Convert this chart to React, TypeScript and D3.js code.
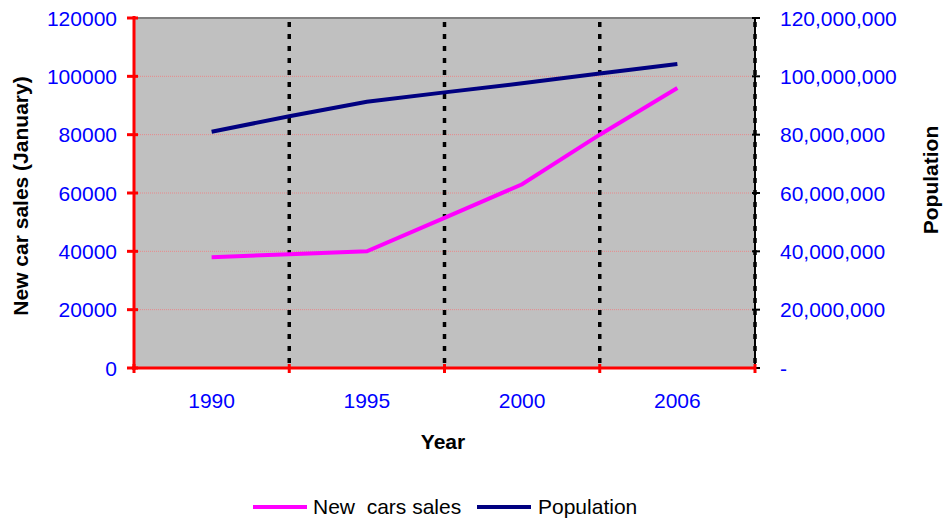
import React from "react";
import * as d3 from "d3";

const years = ["1990", "", "1995", "", "2000", "", "2006"];
const carSales = [38000, 39000, 40000, 51500, 63000, 80000, 96000];
const population = [81000000, 86300000, 91300000, 94500000, 97600000, 101000000, 104200000];
const leftTicks = [0, 20000, 40000, 60000, 80000, 100000, 120000];
const rightTicks = [0, 20000000, 40000000, 60000000, 80000000, 100000000, 120000000];

const W = 945, H = 523;
const L = 134, R = 755, T = 18, B = 368;
const FONT = "Arial, 'Liberation Sans', sans-serif";
const FS = 21;

export default function App() {
  const x = d3.scaleLinear().domain([0, 8]).range([L, R]);
  const yL = d3.scaleLinear().domain([0, 120000]).range([B, T]);
  const yR = d3.scaleLinear().domain([0, 120000000]).range([B, T]);
  const lineL = d3.line<number>().x((_, i) => x(i + 1)).y((d) => yL(d));
  const lineR = d3.line<number>().x((_, i) => x(i + 1)).y((d) => yR(d));
  const fmt = d3.format(",");
  const bounds = [0, 2, 4, 6, 8];
  return (
    <svg width={W} height={H} style={{ position: "absolute", left: 0, top: 0 }} fontFamily={FONT}>
      <rect x={0} y={0} width={W} height={H} fill="#fff" />
      <rect x={L} y={T} width={R - L} height={B - T} fill="#C0C0C0" />
      {leftTicks.slice(1).map((t) => (
        <line key={"g" + t} x1={L} x2={R} y1={yL(t)} y2={yL(t)} stroke="#E8888A" strokeWidth={1} strokeDasharray="1 1" />
      ))}
      <line x1={L} x2={R} y1={T} y2={T} stroke="#808080" strokeWidth={2} />
      {[2, 4, 6, 8].map((b) => (
        <line key={"v" + b} x1={x(b)} x2={x(b)} y1={T} y2={B} stroke="#000" strokeWidth={3.5} strokeDasharray="5 7" strokeDashoffset={-4} />
      ))}
      {/* right axis */}
      <line x1={R} x2={R} y1={T} y2={B} stroke="#000" strokeWidth={2} />
      {rightTicks.map((t) => (
        <line key={"rt" + t} x1={R - 3} x2={R + 5} y1={yR(t)} y2={yR(t)} stroke="#000" strokeWidth={2} />
      ))}
      {rightTicks.map((t) => (
        <text key={"rl" + t} x={780} y={yR(t)} dy="0.36em" fontSize={FS} fill="#0000FF">
          {t === 0 ? "-" : fmt(t)}
        </text>
      ))}
      {/* lines */}
      <path d={lineR(population) || ""} fill="none" stroke="#000080" strokeWidth={4} />
      <path d={lineL(carSales) || ""} fill="none" stroke="#FF00FF" strokeWidth={4} />
      {/* left axis */}
      <line x1={L} x2={L} y1={T - 2} y2={B + 2} stroke="#FF0000" strokeWidth={3} />
      {leftTicks.map((t) => (
        <line key={"lt" + t} x1={L - 7} x2={L + 4} y1={yL(t)} y2={yL(t)} stroke="#FF0000" strokeWidth={3} />
      ))}
      {leftTicks.map((t) => (
        <text key={"ll" + t} x={117} y={yL(t)} dy="0.36em" textAnchor="end" fontSize={FS} fill="#0000FF">
          {t}
        </text>
      ))}
      {/* bottom axis */}
      <line x1={L - 2} x2={R} y1={B} y2={B} stroke="#FF0000" strokeWidth={3} />
      {bounds.map((b) => (
        <line key={"bt" + b} x1={x(b)} x2={x(b)} y1={B - 4} y2={B + 5} stroke="#FF0000" strokeWidth={3} />
      ))}
      {years.map((yv, i) =>
        yv ? (
          <text key={"xl" + i} x={x(i + 1)} y={408} textAnchor="middle" fontSize={FS} fill="#0000FF">
            {yv}
          </text>
        ) : null
      )}
      {/* titles */}
      <text x={443} y={449} textAnchor="middle" fontSize={FS} fontWeight="bold" fill="#000">Year</text>
      <text transform="translate(28,196) rotate(-90)" textAnchor="middle" fontSize={FS} fontWeight="bold" fill="#000">
        New car sales (January)
      </text>
      <text transform="translate(938,180) rotate(-90)" textAnchor="middle" fontSize={FS} fontWeight="bold" fill="#000">
        Population
      </text>
      {/* legend */}
      <line x1={253} x2={307} y1={507} y2={507} stroke="#FF00FF" strokeWidth={4} />
      <text x={313} y={514} fontSize={FS} fill="#000" style={{ whiteSpace: "pre" }}>{"New  cars sales"}</text>
      <line x1={477} x2={531} y1={507} y2={507} stroke="#000080" strokeWidth={4} />
      <text x={538} y={514} fontSize={FS} fill="#000">Population</text>
    </svg>
  );
}
